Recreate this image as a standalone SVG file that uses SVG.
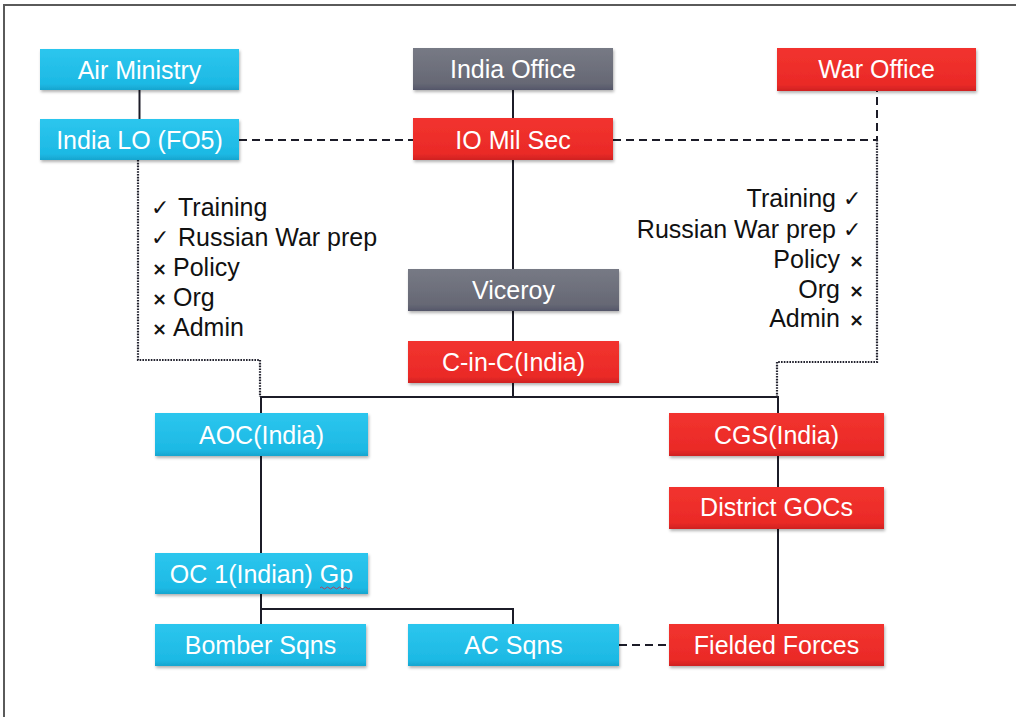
<svg xmlns="http://www.w3.org/2000/svg" width="1016" height="717" viewBox="0 0 1016 717">
  <style>
    .lbl { font-family: "Liberation Sans", Arial, sans-serif; font-size: 25px; fill: #ffffff; text-anchor: middle; }
    .lst { font-family: "Liberation Sans", Arial, sans-serif; font-size: 25px; fill: #111111; }
    .mk { font-family: "DejaVu Sans", sans-serif; font-size: 22px; font-weight: bold; fill: #111111; }
    .xm { font-family: "DejaVu Sans", sans-serif; font-size: 18px; font-weight: bold; fill: #111111; }
    .solid { stroke: #1c1c28; stroke-width: 2; fill: none; }
    .dash { stroke: #1c1c28; stroke-width: 2; fill: none; stroke-dasharray: 8 5; }
    .dot { stroke: #22222e; stroke-width: 2.2; fill: none; stroke-dasharray: 1.6 1.2; }
    .cyan { fill: url(#gCyan); filter: url(#sh); }
    .red { fill: url(#gRed); filter: url(#sh); }
    .gray { fill: url(#gGray); filter: url(#sh); }
  </style>
  <defs>
    <linearGradient id="gCyan" x1="0" y1="0" x2="0" y2="1">
      <stop offset="0" stop-color="#2cc6ee"/>
      <stop offset="0.85" stop-color="#1db9e4"/>
      <stop offset="1" stop-color="#17a5cf"/>
    </linearGradient>
    <linearGradient id="gRed" x1="0" y1="0" x2="0" y2="1">
      <stop offset="0" stop-color="#f2332f"/>
      <stop offset="0.85" stop-color="#ea2a27"/>
      <stop offset="1" stop-color="#cf2222"/>
    </linearGradient>
    <linearGradient id="gGray" x1="0" y1="0" x2="0" y2="1">
      <stop offset="0" stop-color="#777a85"/>
      <stop offset="0.85" stop-color="#666874"/>
      <stop offset="1" stop-color="#54566a"/>
    </linearGradient>
    <filter id="sh" x="-5%" y="-10%" width="110%" height="135%">
      <feDropShadow dx="1" dy="2" stdDeviation="1.5" flood-color="#000000" flood-opacity="0.3"/>
    </filter>
  </defs>
  <rect x="0" y="0" width="1016" height="717" fill="#ffffff"/>
  <path d="M4 717 V5 H1016" stroke="#5a5a5a" stroke-width="2" fill="none"/>

  <g id="connectors">
    <path class="solid" d="M139.5 90 V119"/>
    <path class="solid" d="M513 90 V118"/>
    <path class="solid" d="M513 160 V269"/>
    <path class="solid" d="M513 311 V341"/>
    <path class="solid" d="M513 383 V397"/>
    <path class="solid" d="M261 413 V397 H778 V413"/>
    <path class="solid" d="M261 456 V553"/>
    <path class="solid" d="M261 594 V624"/>
    <path class="solid" d="M261 609 H513 V624"/>
    <path class="solid" d="M778 456 V487"/>
    <path class="solid" d="M778 529 V624"/>
    <path class="dash" d="M239 140 H413"/>
    <path class="dash" d="M613 140 H877 V91"/>
    <path class="dash" d="M619 645 H669"/>
    <path class="dot" d="M138 160 V360 H260 V397"/>
    <path class="dot" d="M877 140 V362 H777 V397"/>
  </g>

  <g id="air-ministry"><rect class="cyan" x="40" y="49" width="199" height="41"/><text class="lbl" x="139.5" y="79">Air Ministry</text></g>
  <g id="india-lo"><rect class="cyan" x="40" y="119" width="199" height="41"/><text class="lbl" x="139.5" y="149">India LO (FO5)</text></g>
  <g id="india-office"><rect class="gray" x="413" y="48" width="200" height="42"/><text class="lbl" x="513" y="78">India Office</text></g>
  <g id="io-mil-sec"><rect class="red" x="413" y="118" width="200" height="42"/><text class="lbl" x="513" y="149">IO Mil Sec</text></g>
  <g id="war-office"><rect class="red" x="777" y="48" width="199" height="43"/><text class="lbl" x="876.5" y="78">War Office</text></g>
  <g id="viceroy"><rect class="gray" x="408" y="269" width="211" height="42"/><text class="lbl" x="513.5" y="299">Viceroy</text></g>
  <g id="c-in-c"><rect class="red" x="408" y="341" width="211" height="42"/><text class="lbl" x="513.5" y="371">C-in-C(India)</text></g>
  <g id="aoc"><rect class="cyan" x="155" y="413" width="213" height="43"/><text class="lbl" x="261.5" y="444">AOC(India)</text></g>
  <g id="cgs"><rect class="red" x="669" y="413" width="215" height="43"/><text class="lbl" x="776.5" y="444">CGS(India)</text></g>
  <g id="district-gocs"><rect class="red" x="669" y="487" width="215" height="42"/><text class="lbl" x="776.5" y="516">District GOCs</text></g>
  <g id="oc1-gp"><rect class="cyan" x="155" y="553" width="213" height="41"/><text class="lbl" x="261.5" y="583">OC 1(Indian) Gp</text>
    <path d="M320 588 q1.5 -2 3 0 t3 0 t3 0 t3 0 t3 0 t3 0 t3 0 t3 0 t3 0 t3 0" stroke="#b04060" stroke-width="1" fill="none"/></g>
  <g id="bomber-sqns"><rect class="cyan" x="155" y="624" width="211" height="42"/><text class="lbl" x="260.5" y="654">Bomber Sqns</text></g>
  <g id="ac-sqns"><rect class="cyan" x="408" y="624" width="211" height="42"/><text class="lbl" x="513.5" y="654">AC Sqns</text></g>
  <g id="fielded-forces"><rect class="red" x="669" y="624" width="215" height="42"/><text class="lbl" x="776.5" y="654">Fielded Forces</text></g>

  <g id="left-list">
    <text class="mk" x="151" y="215">✓</text><text class="lst" x="178" y="216">Training</text>
    <text class="mk" x="151" y="245">✓</text><text class="lst" x="178" y="246">Russian War prep</text>
    <text class="xm" x="152" y="275">×</text><text class="lst" x="173" y="276">Policy</text>
    <text class="xm" x="152" y="305">×</text><text class="lst" x="173" y="306">Org</text>
    <text class="xm" x="152" y="335">×</text><text class="lst" x="173" y="336">Admin</text>
  </g>
  <g id="right-list">
    <text class="lst" x="836" y="207" text-anchor="end">Training</text><text class="mk" x="843" y="206">✓</text>
    <text class="lst" x="836" y="238" text-anchor="end">Russian War prep</text><text class="mk" x="843" y="237">✓</text>
    <text class="lst" x="840" y="268" text-anchor="end">Policy</text><text class="xm" x="849" y="267">×</text>
    <text class="lst" x="840" y="298" text-anchor="end">Org</text><text class="xm" x="849" y="297">×</text>
    <text class="lst" x="840" y="327" text-anchor="end">Admin</text><text class="xm" x="849" y="326">×</text>
  </g>
</svg>
